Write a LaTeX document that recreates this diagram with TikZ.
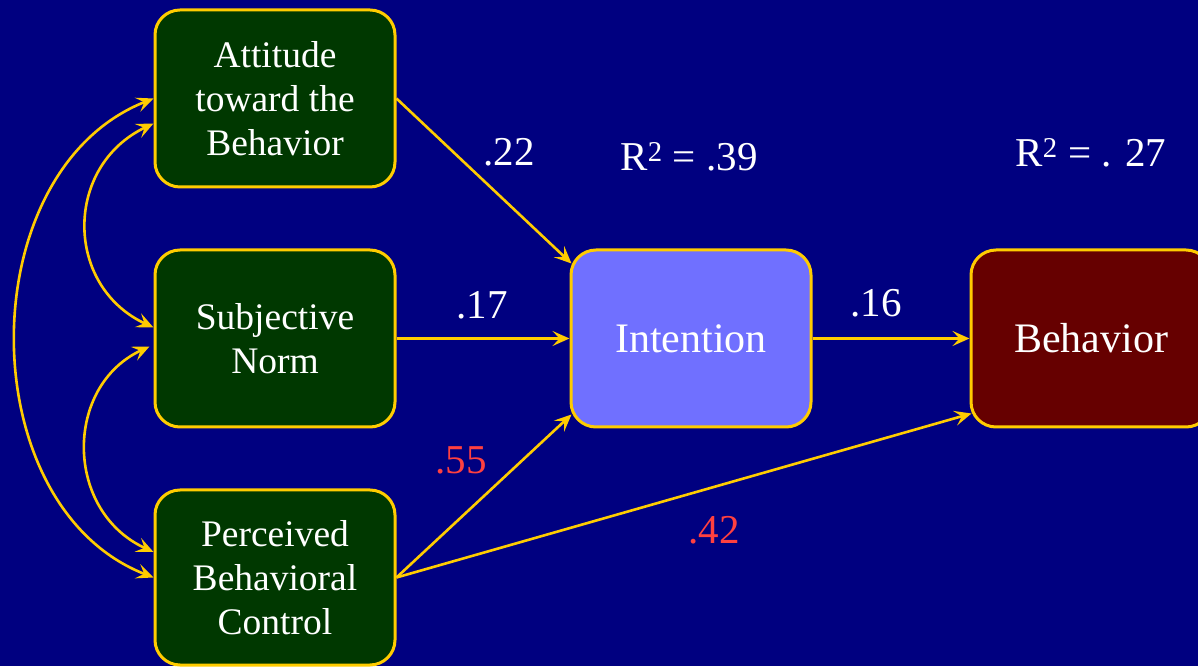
\documentclass[tikz,border=0pt]{standalone}
\usepackage{fontspec}
\setmainfont{Liberation Serif}
\usetikzlibrary{arrows.meta,calc}
\definecolor{navy}{RGB}{0,0,128}
\definecolor{boxgreen}{RGB}{0,56,0}
\definecolor{intblue}{RGB}{112,112,255}
\definecolor{behred}{RGB}{102,0,0}
\definecolor{gold}{RGB}{255,204,0}
\definecolor{labred}{RGB}{255,64,64}
\begin{document}
\begin{tikzpicture}[x=1pt,y=1pt,
  box/.style={draw=gold, line width=3pt, rounded corners=25pt, minimum width=240pt, minimum height=177pt, align=center, text=white, inner sep=0pt},
  pred/.style={box, fill=boxgreen, font=\fontsize{37.5}{44}\selectfont},
  big/.style={font=\fontsize{42}{48}\selectfont},
  tip/.style={Stealth[length=17pt,width=15pt,inset=7pt]},
  conn/.style={draw=gold, line width=2.6pt, -{Stealth[length=17pt,width=15pt,inset=7pt]}},
  dconn/.style={draw=gold, line width=2.6pt, {Stealth[length=17pt,width=15pt,inset=7pt]}-{Stealth[length=17pt,width=15pt,inset=7pt]}},
  wlab/.style={text=white, font=\fontsize{41}{48}\selectfont, inner sep=0pt},
  rlab/.style={text=labred, font=\fontsize{41}{48}\selectfont, inner sep=0pt}
]
\fill[navy] (0,0) rectangle (1198,666);
\useasboundingbox (0,0) rectangle (1198,666);

\node[pred] (att) at (275,567.5) {Attitude\\toward the\\Behavior};
\node[pred] (sn)  at (275,327.5) {Subjective\\Norm};
\node[pred, minimum height=175pt] (pbc) at (275,88.5) {Perceived\\Behavioral\\Control};
\node[box, big, fill=intblue] (int) at (691,327.5) {Intention};
\node[box, big, fill=behred] (beh) at (1091,327.5) {Behavior};

\coordinate (attin) at ($(int.north west)+(2,-15)$);
\coordinate (pbcin) at ($(int.south west)+(2,14)$);
\coordinate (pbcbeh) at ($(beh.south west)+(2,15)$);

\draw[conn] (att.east) -- (attin);
\draw[conn] (sn.east) -- (int.west);
\draw[conn] (int.east) -- (beh.west);
\draw[conn] (pbc.east) -- (pbcin);
\draw[conn] (pbc.east) -- (pbcbeh);

% correlations
\draw[dconn] (pbc.west) .. controls (-30,160) and (-30,495) .. (att.west);
\draw[dconn] ($(sn.west)+(0,11)$) .. controls (64,380) and (64,500) .. ($(att.west)+(0,-25)$);
\draw[dconn] ($(pbc.west)+(0,25.5)$) .. controls (64,155) and (64,280) .. ($(sn.west)+(-4,-8)$);

\node[wlab] (l22) at (509,514) {.22};
\node[wlab] (l17) at (482,361) {.17};
\node[wlab] (l16) at (876,363) {.16};
\node[rlab] (l55) at (461,206) {.55};
\node[rlab] (l42) at (714,136) {.42};
\node[wlab] (r39) at (689,509) {R\textsuperscript{2} = .39};
\node[wlab] (r27) at (1091,513) {R\textsuperscript{2} = . 27};
\end{tikzpicture}
\end{document}
